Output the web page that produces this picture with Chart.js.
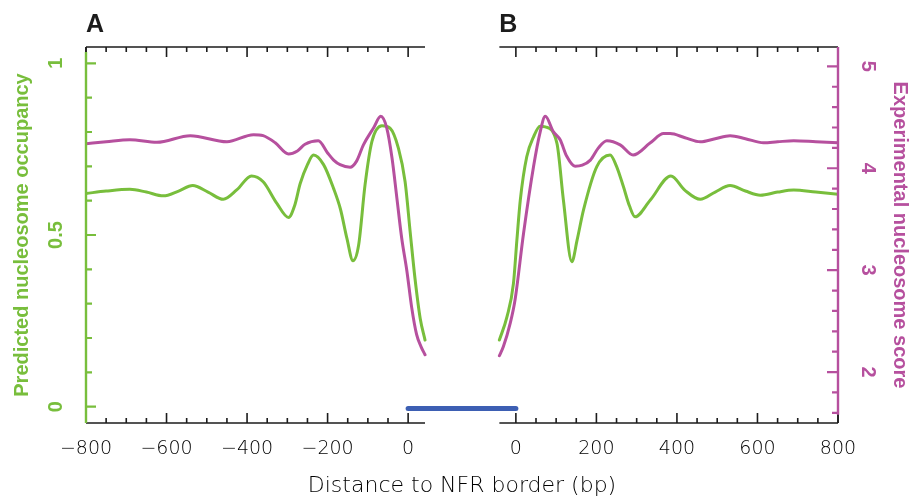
<!DOCTYPE html>
<html>
<head>
<meta charset="utf-8">
<script src="https://cdn.jsdelivr.net/npm/chart.js@4.4.1/dist/chart.umd.min.js"></script>
<style>
html,body{margin:0;padding:0;background:#ffffff;}
#wrap{width:912px;height:497px;}
</style>
</head>
<body>
<div id="wrap"><canvas id="c" width="912" height="497"></canvas></div>
<script>
// ---------- DATA (bp = distance to NFR border) ----------
// Panel A (upstream border)
const predA_x = [-800,-750,-691,-650,-608,-570,-535,-497,-459,-425,-389,-360,-326,-297,-282,-268,-250,-235,-210,-185,-168,-152,-137,-123,-107,-90,-65,-45,-24,-7.5,5,17,30,42];
const predA_y = [0.621,0.628,0.633,0.625,0.614,0.628,0.644,0.625,0.604,0.632,0.672,0.655,0.592,0.551,0.585,0.650,0.705,0.733,0.705,0.635,0.575,0.490,0.425,0.470,0.646,0.772,0.818,0.811,0.752,0.655,0.510,0.374,0.257,0.194];
const expA_x = [-800,-750,-691,-624,-541,-450,-384,-360,-330,-297,-275,-256,-223,-200,-185,-169,-144,-128,-111,-86,-68,-53,-40,-28,-16,-3,9,21,32,42];
const expA_y = [4.24,4.26,4.28,4.255,4.32,4.26,4.33,4.32,4.25,4.14,4.17,4.235,4.27,4.15,4.08,4.035,4.01,4.07,4.23,4.395,4.51,4.395,4.10,3.71,3.315,2.99,2.63,2.37,2.25,2.17];
// Panel B (downstream border)
const predB_x = [-41,-22,-6,2.5,11,27,44,60,73,102,118,139,152,168,201,234,250,267,282,296,334,385,420,458,495,532,570,607,650,690,745,800];
const predB_y = [0.194,0.262,0.359,0.485,0.602,0.728,0.786,0.817,0.815,0.767,0.602,0.422,0.485,0.573,0.699,0.733,0.700,0.641,0.585,0.553,0.602,0.672,0.630,0.604,0.625,0.644,0.628,0.616,0.625,0.631,0.625,0.619];
const expB_x = [-41,-31,-14,-2,19,44,60,73,93,110,126,147,165,185,205,226,259,291,334,367,383,420,458,495,532,570,615,650,690,745,800];
const expB_y = [2.16,2.25,2.48,2.71,3.36,4.02,4.35,4.51,4.36,4.28,4.12,4.02,4.03,4.08,4.20,4.27,4.23,4.13,4.25,4.34,4.34,4.30,4.26,4.29,4.32,4.29,4.25,4.26,4.27,4.26,4.25];
// NFR bar: from border of A (0) to border of B (0), drawn at occupancy level
const nfrBar_x = [0, 0];
const nfrBar_y = [-0.005, -0.005];
// Tick labels
const xTicksA = [-800,-600,-400,-200,0];
const xTicksB = [0,200,400,600,800];
const predTicks = [0,0.5,1];
const expTicks = [2,3,4,5];

// ---------- LAYOUT CONSTANTS ----------
const GAP = 267.6;          // shift of panel B on shared axis
const A_RANGE = [-800, 42];
const B_RANGE = [-41, 800];
const GREEN = '#78be3c', MAGENTA = '#b6509e', BLUE = '#3d5fb3', INK = '#1c1c1c';
const THIN = '"DejaVu Sans ExtraLight","DejaVu Sans Light","DejaVu Sans",sans-serif';
const BOLD = '"Liberation Sans",Arial,sans-serif';

const pts = (xs, ys, shift) => xs.map((v, i) => ({x: v + shift, y: ys[i]}));
const fmt = n => { n = Math.round(n); return n < 0 ? '\u2212' + Math.abs(n) : String(n); };

const frame = {
  id: 'frame',
  afterDatasetsDraw(chart) {
    const {ctx, chartArea: {top, bottom, left, right}, scales: {x, y, y2}} = chart;
    const px = v => x.getPixelForValue(v);
    ctx.save();
    ctx.lineCap = 'butt';
    ctx.strokeStyle = INK; ctx.lineWidth = 1.6;
    ctx.beginPath();
    ctx.moveTo(left, top); ctx.lineTo(left, bottom);
    ctx.moveTo(right, top); ctx.lineTo(right, bottom);
    const panels = [[A_RANGE[0], A_RANGE[1], 0, -800, 0], [B_RANGE[0], B_RANGE[1], GAP, 0, 800]];
    for (const [a, b, s] of panels) {
      ctx.moveTo(px(a + s), top); ctx.lineTo(px(b + s), top);
      ctx.moveTo(px(a + s), bottom); ctx.lineTo(px(b + s), bottom);
    }
    ctx.stroke();
    ctx.beginPath();
    for (const [a, b, s, t0, t1] of panels) {
      for (let v = t0; v <= t1; v += 50) {
        const len = (v % 200 === 0) ? 10 : 5;
        const p = px(v + s);
        ctx.moveTo(p, top); ctx.lineTo(p, top + len);
        ctx.moveTo(p, bottom); ctx.lineTo(p, bottom - len);
      }
    }
    ctx.stroke();
    // green axis
    ctx.strokeStyle = GREEN; ctx.lineWidth = 2.4;
    ctx.beginPath();
    ctx.moveTo(left, y.getPixelForValue(1.033)); ctx.lineTo(left, bottom);
    ctx.stroke();
    ctx.lineWidth = 2.2;
    ctx.beginPath();
    for (let i = 0; i <= 10; i++) {
      const p = y.getPixelForValue(i / 10);
      const len = (i % 5 === 0) ? 10 : 6;
      ctx.moveTo(left, p); ctx.lineTo(left + len, p);
    }
    ctx.stroke();
    // magenta axis
    ctx.strokeStyle = MAGENTA; ctx.lineWidth = 2.4;
    ctx.beginPath();
    ctx.moveTo(right, top); ctx.lineTo(right, y2.getPixelForValue(1.58));
    ctx.stroke();
    ctx.lineWidth = 2.2;
    ctx.beginPath();
    for (let i = 8; i <= 25; i++) {
      const p = y2.getPixelForValue(i / 5);
      const len = (i % 5 === 0) ? 11 : 6;
      ctx.moveTo(right, p); ctx.lineTo(right - len, p);
    }
    ctx.stroke();
    // panel letters
    ctx.fillStyle = INK;
    ctx.font = 'bold 25px ' + BOLD;
    ctx.textBaseline = 'alphabetic'; ctx.textAlign = 'left';
    ctx.fillText('A', px(A_RANGE[0]), top - 15);
    ctx.fillText('B', px(B_RANGE[0] + GAP), top - 15);
    ctx.restore();
  }
};

const lineDs = (label, data, color, axis, width) => ({
  label, data, borderColor: color, backgroundColor: color, yAxisID: axis,
  borderWidth: width, pointRadius: 0, fill: false,
  cubicInterpolationMode: 'monotone', borderJoinStyle: 'round', borderCapStyle: 'round'
});

new Chart(document.getElementById('c'), {
  type: 'line',
  data: {
    datasets: [
      Object.assign(lineDs('NFR', [{x: nfrBar_x[0], y: nfrBar_y[0]}, {x: nfrBar_x[1] + GAP, y: nfrBar_y[1]}], BLUE, 'y', 5), {cubicInterpolationMode: 'default', tension: 0}),
      lineDs('Experimental A', pts(expA_x, expA_y, 0), MAGENTA, 'y2', 3),
      lineDs('Experimental B', pts(expB_x, expB_y, GAP), MAGENTA, 'y2', 3),
      lineDs('Predicted A', pts(predA_x, predA_y, 0), GREEN, 'y', 3),
      lineDs('Predicted B', pts(predB_x, predB_y, GAP), GREEN, 'y', 3)
    ]
  },
  options: {
    responsive: false,
    animation: false,
    devicePixelRatio: 1,
    layout: {padding: {top: 47, left: 0, right: 0, bottom: 0}},
    plugins: {legend: {display: false}, tooltip: {enabled: false}},
    scales: {
      x: {
        type: 'linear', position: 'bottom',
        min: -800, max: 800 + GAP,
        grid: {display: false}, border: {display: false},
        afterBuildTicks: s => { s.ticks = xTicksA.map(v => ({value: v})).concat(xTicksB.map(v => ({value: v + GAP}))); },
        ticks: {
          autoSkip: false, maxRotation: 0, minRotation: 0, padding: 7,
          color: '#000000', font: {family: THIN, size: 19, weight: 200},
          callback: v => fmt(v > A_RANGE[1] ? v - GAP : v)
        },
        title: {display: true, text: 'Distance to NFR border (bp)', color: '#000000',
          font: {family: THIN, size: 22, weight: 200, lineHeight: 1.0}, padding: {top: 0, bottom: 0}},
        afterFit: s => { s.height = 74; }
      },
      y: {
        type: 'linear', position: 'left',
        min: -0.0475, max: 1.0475,
        grid: {display: false}, border: {display: false},
        afterBuildTicks: s => { s.ticks = predTicks.map(v => ({value: v})); },
        ticks: {minRotation: 90, maxRotation: 90, crossAlign: 'center', padding: 8,
          color: GREEN, font: {family: BOLD, size: 20, weight: 'bold'}, callback: v => String(v)},
        title: {display: true, text: 'Predicted nucleosome occupancy', color: GREEN,
          font: {family: BOLD, size: 20, weight: 'bold', lineHeight: 1.2}, padding: {top: 10, bottom: 0}},
        afterFit: s => { s.width = 86; }
      },
      y2: {
        type: 'linear', position: 'right',
        min: 1.5, max: 5.19,
        grid: {display: false}, border: {display: false},
        afterBuildTicks: s => { s.ticks = expTicks.map(v => ({value: v})); },
        ticks: {minRotation: -90, maxRotation: -90, crossAlign: 'center', padding: 16,
          color: MAGENTA, font: {family: BOLD, size: 20, weight: 'bold'}, callback: v => String(v)},
        title: {display: true, text: 'Experimental nucleosome score', color: MAGENTA,
          font: {family: BOLD, size: 20, weight: 'bold', lineHeight: 1.2}, padding: {top: 0, bottom: 0}},
        afterFit: s => { s.width = 74; }
      }
    }
  },
  plugins: [frame]
});
</script>
</body>
</html>
